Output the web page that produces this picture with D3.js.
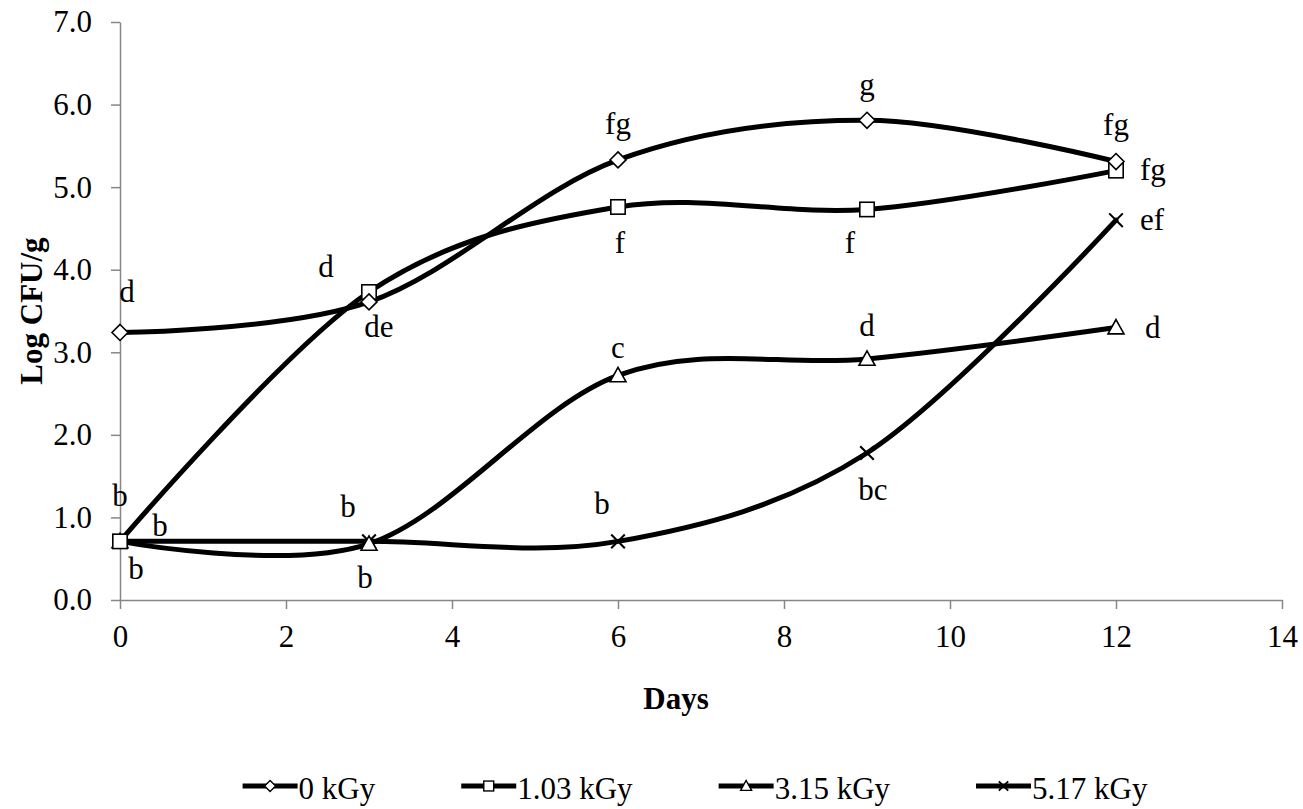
<!DOCTYPE html>
<html>
<head>
<meta charset="utf-8">
<script src="https://cdn.jsdelivr.net/npm/d3@7"></script>
<style>
  html, body { margin: 0; padding: 0; background: #fff; }
  svg { display: block; font-family: "Liberation Serif", "Times New Roman", serif; }
</style>
</head>
<body>
<svg id="chart" width="1303" height="809"></svg>
<script>
// Storage days and microbial counts (Log CFU/g) per irradiation dose
const days = [0, 3, 6, 9, 12];
const seriesNames = ["0 kGy", "1.03 kGy", "3.15 kGy", "5.17 kGy"];
const dose0 = [3.24, 3.61, 5.33, 5.81, 5.31];
const dose103 = [0.71, 3.73, 4.76, 4.73, 5.20];
const dose315 = [0.71, 0.68, 2.72, 2.92, 3.30];
const dose517 = [0.71, 0.71, 0.71, 1.78, 4.60];

// Significance letters printed beside each point
const letters0 = ["d", "de", "fg", "g", "fg"];
const letters103 = ["b", "d", "f", "f", "fg"];
const letters315 = ["b", "b", "c", "d", "d"];
const letters517 = ["b", "b", "b", "bc", "ef"];

// Axis tick values
const xTicks = [0, 2, 4, 6, 8, 10, 12, 14];
const yTicks = [0, 1, 2, 3, 4, 5, 6, 7];

const seriesValues = [dose0, dose103, dose315, dose517];
const seriesLetters = [letters0, letters103, letters315, letters517];
const markerKinds = ["diamond", "square", "triangle", "cross"];

// Label placement: [dx, dy, anchor] relative to each marker
const labelPlacement = [
  [[7, -30, "middle"], [10, 35, "middle"], [0, -26, "middle"], [0, -25, "middle"], [0, -27, "middle"]],
  [[0, -35, "middle"], [-43, -15, "middle"], [2, 46, "middle"], [-17, 44, "middle"], [24, 9, "start"]],
  [[40, -5, "middle"], [-4, 44, "middle"], [0, -17, "middle"], [0, -23, "middle"], [29, 10, "start"]],
  [[16, 38, "middle"], [-21, -24, "middle"], [-16, -27, "middle"], [6, 47, "middle"], [24, 10, "start"]]
];

const svg = d3.select("#chart");
const W = 1303, H = 809;
const plot = { left: 120, right: 1282, top: 22, bottom: 600 };
const FONT = 31;
const axisColor = "#868686";

svg.append("rect").attr("width", W).attr("height", H).attr("fill", "#fff");

const x = d3.scaleLinear().domain([0, 14]).range([plot.left, plot.right]);
const y = d3.scaleLinear().domain([0, 7]).range([plot.bottom, plot.top]);

// Y axis
const yAxis = svg.append("g")
  .attr("transform", `translate(${plot.left},0)`)
  .call(d3.axisLeft(y).tickValues(yTicks).tickFormat(d3.format(".1f")).tickSize(9).tickSizeOuter(0).tickPadding(19));
yAxis.select(".domain").attr("stroke", axisColor).attr("stroke-width", 1.5);
yAxis.selectAll(".tick line").attr("stroke", axisColor).attr("stroke-width", 1.5);
yAxis.selectAll(".tick text")
  .attr("font-family", "Liberation Serif").attr("font-size", FONT).attr("fill", "#000");

// X axis
const xAxis = svg.append("g")
  .attr("transform", `translate(0,${plot.bottom})`)
  .call(d3.axisBottom(x).tickValues(xTicks).tickFormat(d3.format("d")).tickSize(9).tickSizeOuter(0).tickPadding(16));
xAxis.select(".domain").attr("stroke", axisColor).attr("stroke-width", 1.5);
xAxis.selectAll(".tick line").attr("stroke", axisColor).attr("stroke-width", 1.5);
xAxis.selectAll(".tick text")
  .attr("font-family", "Liberation Serif").attr("font-size", FONT).attr("fill", "#000");

// Axis titles
svg.append("text")
  .attr("x", 676).attr("y", 709)
  .attr("text-anchor", "middle")
  .attr("font-size", FONT).attr("font-weight", "bold")
  .text("Days");

svg.append("text")
  .attr("transform", `translate(42,${(plot.top + plot.bottom) / 2}) rotate(-90)`)
  .attr("text-anchor", "middle")
  .attr("font-size", FONT).attr("font-weight", "bold")
  .text("Log CFU/g");

// Smoothed series lines
const line = d3.line()
  .x(d => x(d[0]))
  .y(d => y(d[1]))
  .curve(d3.curveCardinal.tension(0));

// Marker drawing helper
function drawMarker(g, kind, cx, cy, s, sw) {
  const h = s / 2;
  if (kind === "diamond") {
    g.append("path")
      .attr("d", `M${cx},${cy - h}L${cx + h},${cy}L${cx},${cy + h}L${cx - h},${cy}Z`)
      .attr("fill", "#fff").attr("stroke", "#000").attr("stroke-width", sw);
  } else if (kind === "square") {
    const q = h * 0.9;
    g.append("rect")
      .attr("x", cx - q).attr("y", cy - q).attr("width", 2 * q).attr("height", 2 * q)
      .attr("fill", "#fff").attr("stroke", "#000").attr("stroke-width", sw);
  } else if (kind === "triangle") {
    g.append("path")
      .attr("d", `M${cx},${cy - h}L${cx + h},${cy + h * 0.8}L${cx - h},${cy + h * 0.8}Z`)
      .attr("fill", "#fff").attr("stroke", "#000").attr("stroke-width", sw);
  } else {
    const q = h * 0.85;
    g.append("path")
      .attr("d", `M${cx - q},${cy - q}L${cx + q},${cy + q}M${cx - q},${cy + q}L${cx + q},${cy - q}`)
      .attr("fill", "none").attr("stroke", "#000").attr("stroke-width", sw + 0.5);
  }
}

const gLines = svg.append("g");
const gMarkers = svg.append("g");
const gLabels = svg.append("g");

seriesValues.forEach((vals, si) => {
  const pts = days.map((d, i) => [d, vals[i]]);
  gLines.append("path")
    .attr("d", line(pts))
    .attr("fill", "none")
    .attr("stroke", "#000")
    .attr("stroke-width", 5)
    .attr("stroke-linecap", "round");
});

// Markers drawn so the lower-dose series sit on top, as in the plot order
for (let si = seriesValues.length - 1; si >= 0; si--) {
  const vals = seriesValues[si];
  days.forEach((d, i) => {
    drawMarker(gMarkers, markerKinds[si], x(d), y(vals[i]), 16, 1.6);
  });
}

seriesValues.forEach((vals, si) => {
  days.forEach((d, i) => {
    const [dx, dy, anchor] = labelPlacement[si][i];
    gLabels.append("text")
      .attr("x", x(d) + dx)
      .attr("y", y(vals[i]) + dy)
      .attr("text-anchor", anchor)
      .attr("font-size", FONT)
      .attr("fill", "#000")
      .text(seriesLetters[si][i]);
  });
});

// Legend
const legend = svg.append("g");
const legendY = 786;
const sampleLen = 55;
const legendGap = 86;
const items = seriesNames.map((name, si) => {
  const g = legend.append("g");
  const t = g.append("text")
    .attr("x", sampleLen + 1).attr("y", legendY + 13)
    .attr("font-size", FONT).attr("fill", "#000")
    .text(name);
  return { g, w: sampleLen + 1 + t.node().getComputedTextLength(), si };
});
const totalW = d3.sum(items, d => d.w) + legendGap * (items.length - 1);
let cursor = 695 - totalW / 2;
items.forEach(it => {
  it.g.attr("transform", `translate(${cursor},0)`);
  it.g.insert("line", "text")
    .attr("x1", 0).attr("x2", sampleLen)
    .attr("y1", legendY).attr("y2", legendY)
    .attr("stroke", "#000").attr("stroke-width", 5);
  drawMarker(it.g, markerKinds[it.si], sampleLen / 2, legendY, 11, 1.4);
  cursor += it.w + legendGap;
});
</script>
</body>
</html>
